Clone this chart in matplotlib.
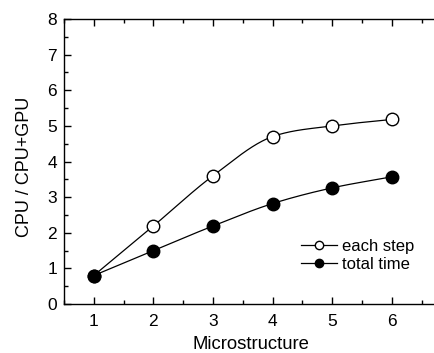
#!/usr/bin/env python3

import numpy as np
import matplotlib
matplotlib.use('Agg')
import matplotlib.pyplot as plt
from matplotlib.ticker import MultipleLocator

plt.rcParams['font.family'] = ['Liberation Sans', 'DejaVu Sans']

structures = [1, 2, 3, 4, 5, 6]
each_step = [0.8, 2.19, 3.60, 4.70, 5.00, 5.18]
total_time = [0.8, 1.50, 2.19, 2.82, 3.26, 3.57]


def smooth(x, y, n=300):
    # cubic Hermite through the points; tangents are a blend of
    # Catmull-Rom and Fritsch-Carlson so the bend stays soft without overshoot
    x = np.asarray(x, float)
    y = np.asarray(y, float)
    h = np.diff(x)
    d = np.diff(y) / h
    m = np.gradient(y, x)
    for i in range(1, len(x) - 1):
        if d[i - 1] * d[i] > 0:
            w1 = 2 * h[i] + h[i - 1]
            w2 = h[i] + 2 * h[i - 1]
            fc = (w1 + w2) / (w1 / d[i - 1] + w2 / d[i])
            m[i] = 0.5 * (m[i] + fc)
    xs = np.linspace(x[0], x[-1], n)
    idx = np.clip(np.searchsorted(x, xs) - 1, 0, len(x) - 2)
    hh = h[idx]
    t = (xs - x[idx]) / hh
    h00 = 2 * t**3 - 3 * t**2 + 1
    h10 = t**3 - 2 * t**2 + t
    h01 = -2 * t**3 + 3 * t**2
    h11 = t**3 - t**2
    ys = h00 * y[idx] + h10 * hh * m[idx] + h01 * y[idx + 1] + h11 * hh * m[idx + 1]
    return xs, ys


def main():
    fig = plt.figure(figsize=(4.35, 3.53), dpi=100)
    # right edge of the frame falls just outside the picture, as in the original
    ax = fig.add_axes([64 / 435, 49 / 353, 374 / 435, 285 / 353])

    xs, ys = smooth(structures, each_step)
    ax.plot(xs, ys, color='black', lw=0.9, zorder=2)
    ax.plot(structures, each_step, 'o', color='black', mfc='white', mew=1.0, ms=9, zorder=3)

    xs, ys = smooth(structures, total_time)
    ax.plot(xs, ys, color='black', lw=0.9, zorder=2)
    ax.plot(structures, total_time, 'o', color='black', mfc='black', ms=9, zorder=3)

    ax.plot([], [], '-o', color='black', mfc='white', lw=0.9, ms=6, label='each step')
    ax.plot([], [], '-o', color='black', mfc='black', lw=0.9, ms=6, label='total time')
    ax.legend(loc='center left', bbox_to_anchor=(301 / 435, 1 - 255.5 / 353),
              bbox_transform=fig.transFigure, frameon=False,
              fontsize=12, handlelength=2.15, handletextpad=0.3,
              labelspacing=0.15, borderpad=0, borderaxespad=0)

    ax.set_xlim(0.5, 6.775)
    ax.set_ylim(0, 8)
    ax.xaxis.set_major_locator(MultipleLocator(1))
    ax.xaxis.set_minor_locator(MultipleLocator(0.5))
    ax.yaxis.set_major_locator(MultipleLocator(1))
    ax.yaxis.set_minor_locator(MultipleLocator(0.5))
    ax.set_xticks([1, 2, 3, 4, 5, 6])
    ax.tick_params(which='both', direction='in', top=True, right=False, width=1.0)
    ax.tick_params(which='major', length=5, labelsize=12.5)
    ax.tick_params(axis='x', which='major', pad=7)
    ax.tick_params(axis='y', which='major', pad=5)
    ax.tick_params(which='minor', length=3)
    for s in ax.spines.values():
        s.set_linewidth(1.0)

    ax.set_xlabel('Microstructure', fontsize=13.3, labelpad=5)
    ax.set_ylabel('CPU / CPU+GPU', fontsize=13, labelpad=10, y=0.48)

    fig.savefig('out.png', dpi=100)


if __name__ == '__main__':
    main()
